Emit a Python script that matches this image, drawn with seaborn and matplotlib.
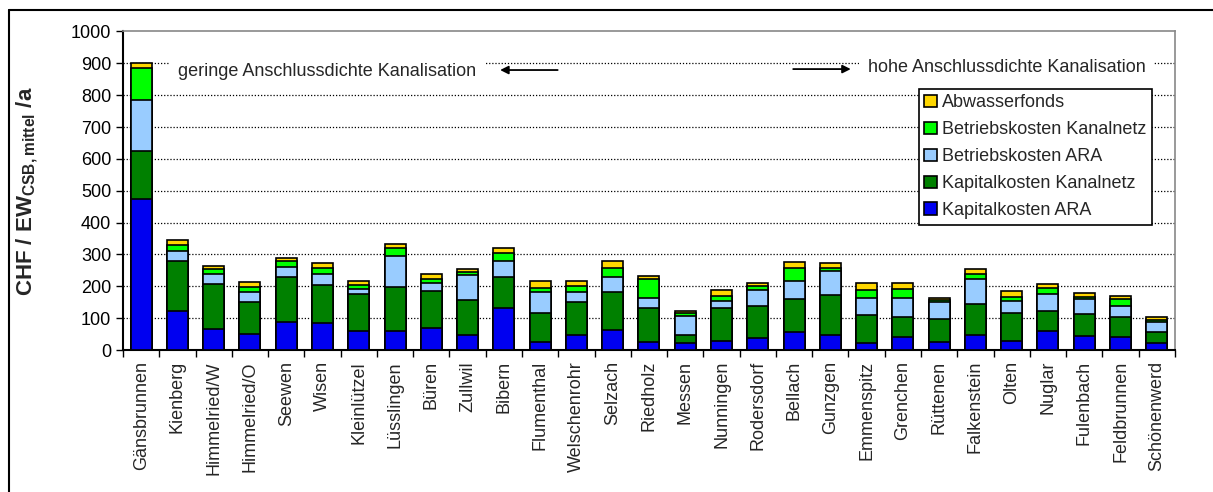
import matplotlib
matplotlib.use("Agg")
import matplotlib.pyplot as plt
from matplotlib.lines import Line2D
import seaborn as sns
import numpy as np
import pandas as pd

# Gemeinden (x-Achse)
gemeinden = ["Gänsbrunnen", "Kienberg", "Himmelried/W", "Himmelried/O", "Seewen", "Wisen",
             "Kleinlützel", "Lüsslingen", "Büren", "Zullwil", "Bibern", "Flumenthal",
             "Welschenrohr", "Selzach", "Riedholz", "Messen", "Nunningen", "Rodersdorf",
             "Bellach", "Gunzgen", "Emmenspitz", "Grenchen", "Rüttenen", "Falkenstein",
             "Olten", "Nuglar", "Fulenbach", "Feldbrunnen", "Schönenwerd"]

# Kostenanteile CHF / EW / a
kap_ara = [473, 122, 66, 51, 89, 84, 61, 61, 68, 48, 132, 26, 48, 64, 26, 21, 27, 37,
           55, 48, 21, 40, 26, 48, 29, 61, 45, 40, 21]
kap_kanal = [152, 157, 140, 101, 141, 119, 114, 138, 116, 108, 97, 90, 103, 119, 106, 27, 105, 100,
             105, 126, 90, 65, 72, 97, 87, 60, 67, 63, 34]
betr_ara = [160, 32, 32, 29, 30, 36, 17, 97, 27, 79, 50, 66, 31, 46, 31, 58, 22, 50,
            57, 74, 52, 59, 53, 77, 38, 56, 48, 36, 32]
betr_kanal = [99, 19, 16, 18, 19, 17, 12, 23, 13, 10, 27, 14, 19, 30, 59, 10, 14, 14,
              41, 10, 24, 28, 7, 18, 12, 18, 6, 20, 6]
abwasserfonds = [16, 15, 11, 13, 9, 18, 14, 13, 16, 10, 15, 21, 16, 19, 10, 5, 19, 10,
                 19, 15, 24, 19, 6, 15, 18, 13, 14, 12, 10]

serien = ["Kapitalkosten ARA", "Kapitalkosten Kanalnetz", "Betriebskosten ARA",
          "Betriebskosten Kanalnetz", "Abwasserfonds"]
farben = ["#0000F0", "#008000", "#99CCFF", "#00FF00", "#FFD700"]

df = pd.DataFrame({"Gemeinde": gemeinden, serien[0]: kap_ara, serien[1]: kap_kanal,
                   serien[2]: betr_ara, serien[3]: betr_kanal, serien[4]: abwasserfonds})
cum = df[serien].cumsum(axis=1)
cum["Gemeinde"] = gemeinden

sns.set_theme(style="white")
plt.rcParams["font.family"] = ["Liberation Sans", "DejaVu Sans"]
plt.rcParams["mathtext.fontset"] = "custom"
plt.rcParams["mathtext.rm"] = "Liberation Sans"
plt.rcParams["mathtext.bf"] = "Liberation Sans:bold"

fig = plt.figure(figsize=(12.13, 4.92), dpi=100)
ax = fig.add_axes([0.1014, 0.2886, 0.8672, 0.6474])

# gestapelte Balken: kumulierte Summen von oben nach unten zeichnen
for s, c in zip(serien[::-1], farben[::-1]):
    sns.barplot(data=cum, x="Gemeinde", y=s, color=c, saturation=1,
                width=0.58, edgecolor="black", linewidth=1.2, label=s, ax=ax, zorder=3)

ax.set_ylim(0, 1000)
ax.set_xlim(-0.5, len(gemeinden) - 0.5)
ax.set_yticks(np.arange(0, 1001, 100))
for v in range(100, 1000, 100):
    ax.axhline(v, color="black", linestyle=(0, (1, 1.5)), linewidth=0.9, zorder=1)

for side in ["left", "bottom"]:
    ax.spines[side].set_color("black")
    ax.spines[side].set_linewidth(1.5)
for side in ["top", "right"]:
    ax.spines[side].set_color("#888888")
    ax.spines[side].set_linewidth(1.2)

ax.tick_params(axis="y", direction="out", length=5, width=1, left=True, labelsize=13, colors="black")
ax.set_xticks(range(len(gemeinden)))
ax.set_xticklabels(gemeinden, rotation=90, fontsize=13)
ax.tick_params(axis="x", length=0, pad=8)
ax.set_xticks(np.arange(-0.5, len(gemeinden), 1), minor=True)
ax.tick_params(axis="x", which="minor", direction="out", length=5, width=1, bottom=True, color="black")
ax.set_xlabel("")
ax.set_ylabel(r"CHF / EW$_{\mathbf{CSB,mittel}}$ /a", fontsize=16, fontweight="bold")
ax.yaxis.set_label_coords(-0.079, 0.5)

# Annotationen (weisser Hintergrund deckt die Gitterlinie ab)
box = dict(facecolor="white", edgecolor="none", pad=6)
ax.text(1.02, 875, "geringe Anschlussdichte Kanalisation", fontsize=13, va="center", ha="left",
        bbox=box, zorder=4)
ax.annotate("", xy=(9.82, 879), xytext=(11.56, 879),
            arrowprops=dict(arrowstyle="-|>", color="black", lw=1.3, mutation_scale=12), zorder=4)
ax.text(20.03, 888, "hohe Anschlussdichte Kanalisation", fontsize=13, va="center", ha="left",
        bbox=box, zorder=4)
ax.annotate("", xy=(19.64, 882), xytext=(17.9, 882),
            arrowprops=dict(arrowstyle="-|>", color="black", lw=1.3, mutation_scale=12), zorder=4)

leg = ax.legend(loc="upper left", bbox_to_anchor=(0.7564, 0.8195), borderaxespad=0,
                fontsize=13, frameon=True, fancybox=False, edgecolor="black",
                handlelength=0.7, handleheight=0.7, handletextpad=0.3, labelspacing=0.55,
                borderpad=0.3)
leg.get_frame().set_linewidth(1.2)
leg.get_frame().set_facecolor("white")
leg.get_frame().set_alpha(1)
leg.set_zorder(5)

# Rahmen um die Grafik
fig.add_artist(Line2D([0.0074, 0.0074], [0, 0.9797], color="black", lw=1.5))
fig.add_artist(Line2D([0.0074, 1], [0.9797, 0.9797], color="black", lw=1.5))

fig.savefig("out.png", dpi=100)
